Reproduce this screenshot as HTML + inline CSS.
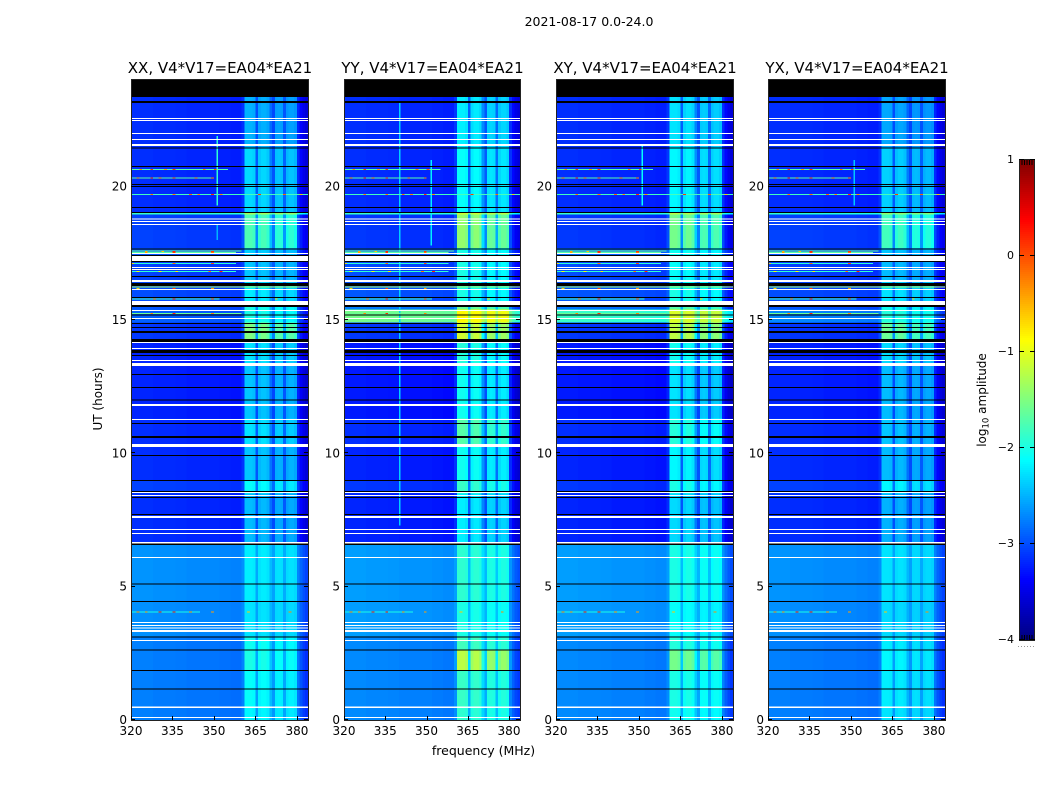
<!DOCTYPE html>
<html lang="en">
<head>
<meta charset="utf-8">
<title>2021-08-17 0.0-24.0</title>
<style>
html,body{margin:0;padding:0;background:#fff;width:1050px;height:800px;overflow:hidden}
svg{display:block}
text{font-family:"DejaVu Sans","Liberation Sans",sans-serif;fill:#000}
</style>
</head>
<body>
<svg id="chart" xmlns="http://www.w3.org/2000/svg" width="1050" height="800" viewBox="0 0 1050 800">
  <rect x="0" y="0" width="1050" height="800" fill="#fff"/>
  <text x="589" y="26" font-size="12.5" text-anchor="middle">2021-08-17 0.0-24.0</text>
  <text x="483.500" y="755" font-size="12.5" text-anchor="middle">frequency (MHz)</text>
  <text transform="translate(102,399) rotate(-90)" font-size="12" text-anchor="middle">UT (hours)</text>
  <text transform="translate(986,400) rotate(-90)" font-size="12" text-anchor="middle">log<tspan font-size="8.5" dy="2.5">10</tspan><tspan dy="-2.5"> amplitude</tspan></text>
  <g id="panels"></g>
  <g id="colorbar"></g>
</svg>
<script>
// ---- Data (hours, MHz, log10 amplitude) ----
const panelTitles = ['XX, V4*V17=EA04*EA21', 'YY, V4*V17=EA04*EA21', 'XY, V4*V17=EA04*EA21', 'YX, V4*V17=EA04*EA21'];
const xTicks = [320, 335, 350, 365, 380];
const yTicks = [0, 5, 10, 15, 20];
const colorbarTicks = [1, 0, -1, -2, -3, -4];

const channelMHz = [320,321,322,323,324,325,326,327,328,329,330,331,332,333,334,335,336,337,338,339,340,341,342,343,344,345,346,347,348,349,350,351,352,353,354,355,356,357,358,359,360,361,362,363,364,365,366,367,368,369,370,371,372,373,374,375,376,377,378,379,380,381,382,383];
const channelFloor = [.05,.05,.05,.05,.05,.05,.05,.05,.03,.03,.03,.03,.03,.03,.03,.03,.02,.02,.02,.02,0,0,0,0,0,0,0,0,0,0,0,0,-.02,-.02,-.02,-.02,-.04,-.04,-.04,-.04,-.03,0,0,0,0,0,0,0,0,0,0,0,0,0,0,0,0,0,0,0,-.1,-.2,-.28,-.35];
const channelBand = [0,0,0,0,0,0,0,0,0,0,0,0,0,0,0,0,0,0,0,0,0,0,0,0,0,0,0,0,0,0,0,0,0,0,0,0,0,0,0,0,.12,1,1,1,.95,.3,.9,.98,.98,.9,.5,.25,.85,.88,.85,.35,.8,.88,.88,.8,.15,.05,0,0];

const rowEdges = [23.36,21.45,19.05,18.95,17.7,17.2,16.4,15.6,15.4,14.9,14.2,13.3,11.3,10.3,9.0,8.5,6.6,4.5,3.1,2.6,1.85,0.45,0];
const xxFloor = [-3.2,-3.2,-1.9,-3.1,-3.0,-3.1,-3.05,-3.0,-2.95,-3.15,-3.25,-3.25,-3.2,-3.2,-3.1,-3.2,-2.7,-2.72,-2.8,-2.8,-2.8,-2.8];
const xxBand  = [-2.5,-2.3,-1.3,-1.75,-2.35,-2.4,-2.2,-2.0,-2.0,-1.5,-2.25,-2.4,-2.25,-2.4,-2.1,-2.45,-2.2,-2.25,-2.05,-2.0,-2.1,-2.15];
const yyFloor = [-3.2,-3.2,-1.9,-3.15,-2.95,-3.05,-3.0,-2.8,-1.6,-3.15,-3.3,-3.3,-3.2,-3.25,-3.15,-3.25,-2.65,-2.65,-2.75,-2.75,-2.75,-2.75];
const yyBand  = [-2.2,-2.1,-1.1,-1.4,-2.0,-2.0,-2.0,-1.6,-0.85,-1.1,-1.95,-2.05,-1.7,-2.05,-1.85,-2.2,-1.9,-2.0,-1.8,-1.2,-1.85,-1.9];
const xyFloor = [-3.2,-3.2,-1.9,-3.15,-2.9,-3.05,-3.0,-2.85,-1.9,-3.15,-3.3,-3.3,-3.2,-3.25,-3.15,-3.25,-2.65,-2.65,-2.75,-2.75,-2.75,-2.75];
const xyBand  = [-2.25,-2.15,-1.2,-1.55,-2.05,-2.1,-2.0,-1.7,-1.05,-1.2,-2.05,-2.25,-1.95,-2.15,-2.0,-2.3,-2.0,-2.1,-1.95,-1.55,-2.0,-2.05];
const yxFloor = [-3.2,-3.2,-1.95,-3.1,-3.0,-3.1,-3.05,-3.0,-2.75,-3.15,-3.25,-3.25,-3.2,-3.2,-3.1,-3.2,-2.7,-2.72,-2.8,-2.8,-2.8,-2.8];
const yxBand  = [-2.55,-2.35,-1.4,-1.8,-2.4,-2.45,-2.25,-2.05,-1.95,-1.6,-2.3,-2.45,-2.4,-2.45,-2.15,-2.5,-2.25,-2.3,-2.2,-2.15,-2.2,-2.25];
const panelFloors = [xxFloor, yyFloor, xyFloor, yxFloor];
const panelBands = [xxBand, yyBand, xyBand, yxBand];

const noDataTop = [24, 23.36];
const blackGaps = [[23.21,23.14],[21.47,21.43],[20.78,20.74],[20.10,20.06],[20.03,19.99],[19.24,19.2],[19.05,19.01],[17.68,17.64],[17.44,17.40],[17.21,17.18],[16.65,16.61],[16.39,16.28],[15.86,15.83],[15.56,15.49],[15.2,15.17],[14.89,14.85],[14.74,14.7],[14.59,14.51],[14.29,14.18],[13.88,13.76],[13.69,13.65],[12.98,12.94],[12.49,12.45],[12.02,11.98],[11.14,11.1],[10.65,10.58],[9.94,9.9],[9.0,8.96],[8.59,8.55],[8.36,8.33],[7.73,7.69],[6.62,6.56],[5.12,5.08],[4.46,4.43],[3.13,3.09],[2.64,2.61],[1.88,1.84],[1.18,1.14]];
const whiteGaps = [[22.58,22.54],[22.5,22.46],[22.01,21.98],[21.79,21.75],[21.6,21.53],[18.81,18.77],[18.71,18.68],[18.6,18.56],[17.51,17.48],[17.4,17.21],[16.99,16.95],[16.91,16.88],[16.5,16.43],[16.16,16.13],[15.71,15.56],[15.38,15.34],[15.08,15.04],[14.18,14.14],[13.95,13.91],[13.5,13.46],[13.39,13.28],[11.85,11.78],[11.29,11.25],[10.35,10.24],[8.55,8.51],[8.44,8.4],[7.65,7.58],[7.16,7.13],[7.01,6.98],[6.68,6.62],[6.11,6.08],[3.68,3.64],[3.56,3.53],[3.47,3.43],[3.38,3.3],[3.0,2.96],[0.51,0.45],[0.11,0.08]];

// [hour, level, from MHz, to MHz]
const rfiRows = [[20.66,-1.7,320,355],[20.35,-1.7,320,350],[19.72,-1.8,320,384],[17.6,-1.6,320,360],[17.55,-1.7,320,358],[17.14,-1.9,320,358],[16.84,-1.9,320,358],[16.25,-1.3,320,384],[15.81,-1.8,320,352],[15.26,-1.6,320,360],[4.07,-2.0,320,345]];
// [hour, MHz, level]
const rfiSpots = [[20.66,323,-.3],[20.66,327,.1],[20.66,332,-.4],[20.66,335,.1],[20.66,346,-.2],[20.66,350,0],[20.35,322,-.5],[20.35,327,0],[20.35,330,-.5],[20.35,335,-.2],[20.35,343,-.5],[20.35,349,-.3],[19.72,327,-.2],[19.72,335,-.2],[19.72,341,-.1],[19.72,344,-.3],[19.72,349,.2],[19.72,352,-.3],[19.72,366,.1],[19.72,375,-.1],[19.72,381,-.6],[17.58,325,-.5],[17.58,331,-.6],[17.58,335,.2],[17.58,349,.1],[17.55,325,-.4],[17.55,335,.1],[17.55,349,-.2],[17.14,320,-.7],[17.14,335,-.2],[17.14,349,0],[16.84,322,-.9],[16.84,330,-.9],[16.84,336,-.8],[16.84,348,-.2],[16.84,352,.2],[16.2,322,-.7],[16.2,335,.1],[16.2,349,-.4],[15.81,328,-.6],[15.81,335,-.1],[15.81,349,-.4],[15.81,372,-.7],[15.26,327,-.3],[15.26,335,.2],[15.26,349,-.3],[4.07,322,-.4],[4.07,325,-.5],[4.07,330,.1],[4.07,335,.1],[4.07,341,-.5],[4.07,349,-.4],[4.07,362,-.6],[4.07,377,-.3]];
// [panel index, MHz, hour top, hour bottom, level]
const rfiColumns = [[0,351,21.9,19.3,-1.9],[0,351,18.6,18.0,-2.5],[1,340,23.2,7.3,-2.35],[1,351.500,21.0,17.8,-2.2],[2,351,21.6,19.3,-2.1],[3,351,21.0,19.3,-2.4]];

// ---- Layout ----
const NS = 'http://www.w3.org/2000/svg';
const panelLeft = [131, 344, 556, 768];
const panelWidth = [177, 176, 177, 177];
const plotTop = 80, plotBottom = 720;
const timeMax = 24, freqMin = 320, freqSpan = 64;
const cbarLeft = 1019, cbarRight = 1035, cbarTop = 160, cbarBottom = 640;
const colorMin = -4, colorMax = 1;

// ---- Axis functions ----
function xScale(p, mhz) { return panelLeft[p] + (mhz - freqMin) * panelWidth[p] / freqSpan; }
function yScale(h) { return plotBottom - h * (plotBottom - plotTop) / timeMax; }
function cbarScale(v) { return cbarBottom - (v - colorMin) * (cbarBottom - cbarTop) / (colorMax - colorMin); }
function jet(v) {
  const t = Math.min(1, Math.max(0, (v - colorMin) / (colorMax - colorMin)));
  const ramp = x => Math.round(255 * Math.min(1, Math.max(0, x)));
  const r = ramp(Math.min(4 * t - 1.5, -4 * t + 4.5));
  const g = ramp(Math.min(4 * t - 0.5, -4 * t + 3.5));
  const b = ramp(Math.min(4 * t + 0.5, -4 * t + 2.5));
  return 'rgb(' + r + ',' + g + ',' + b + ')';
}
function mk(tag, attrs, parent) {
  const el = document.createElementNS(NS, tag);
  for (const k in attrs) el.setAttribute(k, attrs[k]);
  parent.appendChild(el);
  return el;
}

const panelsRoot = document.getElementById('panels');

panelTitles.forEach(function (title, p) {
  const g = mk('g', {}, panelsRoot);
  
  

  const heat = mk('g', { 'shape-rendering': 'crispEdges' }, g);
  
  

  // base cells
  for (let r = 0; r < rowEdges.length - 1; r++) {
    const y0 = yScale(rowEdges[r]), y1 = yScale(rowEdges[r + 1]);
    channelMHz.forEach(function (mhz, c) {
      const floor = panelFloors[p][r] + channelFloor[c];
      const value = floor + (panelBands[p][r] - panelFloors[p][r]) * channelBand[c];
      const x0 = xScale(p, mhz), x1 = xScale(p, mhz + 1);
      const cell = mk('rect', { x: x0, y: y0, width: x1 - x0, height: y1 - y0, fill: jet(value) }, heat);
      
      
    });
  }

  // interference columns
  rfiColumns.forEach(function (rc) {
    if (rc[0] !== p) return;
    const col = mk('rect', { x: xScale(p, rc[1]), y: yScale(rc[2]), width: xScale(p, rc[1] + .5) - xScale(p, rc[1]), height: yScale(rc[3]) - yScale(rc[2]), fill: jet(rc[4]) }, heat);
    
    
  });

  // interference rows
  rfiRows.forEach(function (row) {
    const line = mk('rect', { x: xScale(p, row[2]), y: yScale(row[0]), width: xScale(p, row[3]) - xScale(p, row[2]), height: 1, fill: jet(row[1]) }, heat);
    
    
  });

  // interference spots
  rfiSpots.forEach(function (s) {
    const spot = mk('rect', { x: xScale(p, s[1]), y: yScale(s[0]), width: xScale(p, s[1] + 1) - xScale(p, s[1]), height: 1, fill: jet(s[2]) }, heat);
    
    
  });

  // flagged gaps
  const top = mk('rect', { x: panelLeft[p], y: yScale(noDataTop[0]), width: panelWidth[p], height: yScale(noDataTop[1]) - yScale(noDataTop[0]), fill: '#000' }, heat);
  
  
  blackGaps.forEach(function (gap) {
    const b = mk('rect', { x: panelLeft[p], y: yScale(gap[0]), width: panelWidth[p], height: Math.max(1, yScale(gap[1]) - yScale(gap[0])), fill: '#000' }, heat);
    
    
  });
  whiteGaps.forEach(function (gap) {
    const w = mk('rect', { x: panelLeft[p], y: yScale(gap[0]), width: panelWidth[p], height: Math.max(1, yScale(gap[1]) - yScale(gap[0])), fill: '#fff' }, heat);
    
    
  });

  // frame
  const frame = mk('rect', { x: panelLeft[p] + .5, y: plotTop - .5, width: panelWidth[p], height: plotBottom - plotTop + 1, fill: 'none', stroke: '#222', 'stroke-width': 1 }, g);
  
  

  // title
  const t = mk('text', { x: panelLeft[p] + panelWidth[p] / 2 + 0.5, y: 73, 'font-size': 15, 'text-anchor': 'middle' }, g);
  t.textContent = title;
  
  

  // x ticks
  xTicks.forEach(function (v) {
    const px = Math.round(xScale(p, v)) + .5;
    const tick = mk('line', { x1: px, x2: px, y1: plotBottom, y2: plotBottom - 4, stroke: '#000', 'stroke-width': 1 }, g);
    
    
    const lab = mk('text', { x: xScale(p, v), y: 735, 'font-size': 12, 'text-anchor': 'middle' }, g);
    lab.textContent = v;
    
    
  });

  // y ticks
  yTicks.forEach(function (v) {
    const py = Math.round(yScale(v)) - .5;
    const left = mk('line', { x1: panelLeft[p], x2: panelLeft[p] + 4, y1: py, y2: py, stroke: '#000', 'stroke-width': 1 }, g);
    
    
    const right = mk('line', { x1: panelLeft[p] + panelWidth[p] - 4, x2: panelLeft[p] + panelWidth[p], y1: py, y2: py, stroke: '#000', 'stroke-width': 1 }, g);
    
    
    const lab = mk('text', { x: panelLeft[p] - 4, y: yScale(v) + 4, 'font-size': 12, 'text-anchor': 'end' }, g);
    lab.textContent = v;
    
    
  });
});

// ---- Colorbar ----
const cbarRoot = document.getElementById('colorbar');
const ramp = mk('g', { 'shape-rendering': 'crispEdges' }, cbarRoot);


for (let py = cbarTop; py < cbarBottom; py += 2) {
  const v = colorMin + (cbarBottom - py - 1) / (cbarBottom - cbarTop) * (colorMax - colorMin);
  const step = mk('rect', { x: cbarLeft, y: py, width: cbarRight - cbarLeft, height: 2, fill: jet(v) }, ramp);
  
  
}
const cbarFrame = mk('rect', { x: cbarLeft + .5, y: cbarTop - .5, width: cbarRight - cbarLeft - 1, height: cbarBottom - cbarTop + 1, fill: 'none', stroke: '#222', 'stroke-width': 1 }, cbarRoot);



colorbarTicks.forEach(function (v) {
  const py = Math.round(cbarScale(v)) - .5;
  const l = mk('line', { x1: cbarLeft, x2: cbarLeft + 5, y1: py, y2: py, stroke: '#000', 'stroke-width': 1 }, cbarRoot);
  
  
  const r = mk('line', { x1: cbarRight - 5, x2: cbarRight, y1: py, y2: py, stroke: '#000', 'stroke-width': 1 }, cbarRoot);
  
  
  const lab = mk('text', { x: 1014, y: cbarScale(v) + 3, 'font-size': 11, 'text-anchor': 'end' }, cbarRoot);
  lab.textContent = String(v).replace('-', '\u2212');
  
  
});

[1022, 1024.500, 1027, 1029.500, 1032].forEach(function (px) {
  const a = mk('line', { x1: px, x2: px, y1: cbarTop, y2: cbarTop + 5, stroke: '#000', 'stroke-width': 1 }, cbarRoot);
  
  
  const b = mk('line', { x1: px, x2: px, y1: cbarBottom - 5, y2: cbarBottom, stroke: '#000', 'stroke-width': 1 }, cbarRoot);
  
  
});
[1018, 1021, 1024, 1027, 1030, 1033].forEach(function (px) {
  const dot = mk('rect', { x: px, y: 646, width: 1, height: 1, fill: '#999' }, cbarRoot);
  
  
});
</script>
</body>
</html>
